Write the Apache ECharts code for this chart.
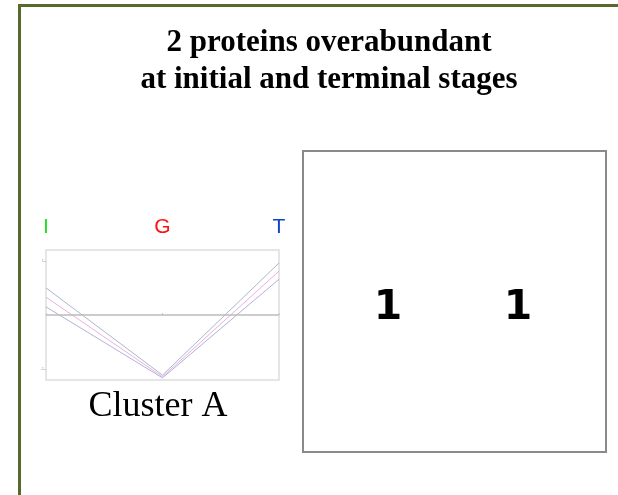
<!DOCTYPE html>
<html>
<head>
<meta charset="utf-8">
<script src="https://cdn.jsdelivr.net/npm/echarts@6/dist/echarts.min.js"></script>
<style>
  html, body { margin: 0; padding: 0; background: #fff; }
  #chart { width: 618px; height: 495px; }
</style>
</head>
<body>
<div id="chart"></div>
<script>
  // stages of the profile plot
  var stages = ['I', 'G', 'T']
  var stageColors = ['#22dd22', '#ff1111', '#1144cc']
  // three protein profiles of cluster A
  var profileA = [0.50, -1.11, 0.96]
  var profileB = [0.33, -1.14, 0.81]
  var profileC = [0.15, -1.16, 0.66]
  var profileColors = ['#a8b8cc', '#ecb0e0', '#b4b0dc']
  var yTicks = [-1, 1]
  // counts in the right box
  var countGroups = ['initial', 'terminal']
  var counts = [1, 1]

  var chart = echarts.init(document.getElementById('chart'))

  function lineSeries(data, color) {
    return {
      type: 'line',
      xAxisIndex: 0,
      yAxisIndex: 0,
      data: data,
      symbol: 'none',
      lineStyle: { color: color, width: 1 },
      silent: true
    }
  }

  var series = [
    lineSeries(profileA, profileColors[0]),
    lineSeries(profileB, profileColors[1]),
    lineSeries(profileC, profileColors[2])
  ]
  series[0].markLine = {
    symbol: 'none',
    silent: true,
    label: { show: false },
    lineStyle: { color: '#bbbbbb', width: 1.5, type: 'solid' },
    data: [{ yAxis: 0 }]
  }
  series.push({
    type: 'scatter',
    xAxisIndex: 1,
    yAxisIndex: 1,
    symbolSize: 0,
    itemStyle: { opacity: 1 },
    data: counts.map(function (c, i) { return [i, 0, c] }),
    label: {
      show: true,
      position: 'inside',
      formatter: function (p) { return p.value[2] },
      fontFamily: 'DejaVu Sans',
      fontWeight: 'bold',
      fontSize: 41,
      color: '#000',
      opacity: 1
    },
    silent: true
  })

  chart.setOption({
    backgroundColor: '#fff',
    animation: false,
    title: {
      text: '2 proteins overabundant\nat initial and terminal stages',
      left: 324,
      top: 19,
      textAlign: 'center',
      textStyle: {
        fontFamily: 'Liberation Serif',
        fontWeight: 'bold',
        fontSize: 31,
        lineHeight: 37,
        color: '#000'
      }
    },
    grid: [
      {
        left: 46, top: 250, width: 233, height: 130,
        show: true, borderColor: '#dddddd', borderWidth: 1.5
      },
      { left: 323, top: 293, width: 260, height: 30 }
    ],
    xAxis: [
      {
        gridIndex: 0,
        type: 'category',
        data: stages,
        boundaryGap: false,
        position: 'top',
        axisLine: { show: false },
        axisTick: { show: true, length: 2, lineStyle: { color: '#ccc' } },
        axisLabel: {
          margin: 12,
          fontFamily: 'Liberation Sans',
          fontSize: 21,
          color: function (v, i) { return stageColors[i] }
        }
      },
      {
        gridIndex: 1,
        type: 'category',
        data: countGroups,
        show: false
      }
    ],
    yAxis: [
      {
        gridIndex: 0,
        type: 'value',
        min: -1.2,
        max: 1.2,
        splitLine: { show: false },
        axisLine: { show: false },
        axisTick: { show: true, length: 2, customValues: yTicks, lineStyle: { color: '#ccc' } },
        axisLabel: { customValues: yTicks, fontSize: 4, color: '#999', margin: 2 }
      },
      {
        gridIndex: 1,
        type: 'value',
        min: -1,
        max: 1,
        show: false
      }
    ],
    graphic: [
      // slide frame
      { type: 'rect', shape: { x: 18, y: 4, width: 600, height: 3 }, style: { fill: '#566b2b' } },
      { type: 'rect', shape: { x: 18, y: 4, width: 3, height: 491 }, style: { fill: '#566b2b' } },
      // count box
      {
        type: 'rect',
        shape: { x: 303, y: 151, width: 303, height: 301 },
        style: { fill: 'none', stroke: '#8a8a8a', lineWidth: 2 }
      },
      {
        type: 'text',
        x: 158, y: 407,
        style: {
          text: 'Cluster A',
          fontFamily: 'Liberation Serif',
          fontSize: 36,
          fill: '#000',
          align: 'center',
          verticalAlign: 'middle'
        }
      }
    ],
    series: series
  })
</script>
</body>
</html>
